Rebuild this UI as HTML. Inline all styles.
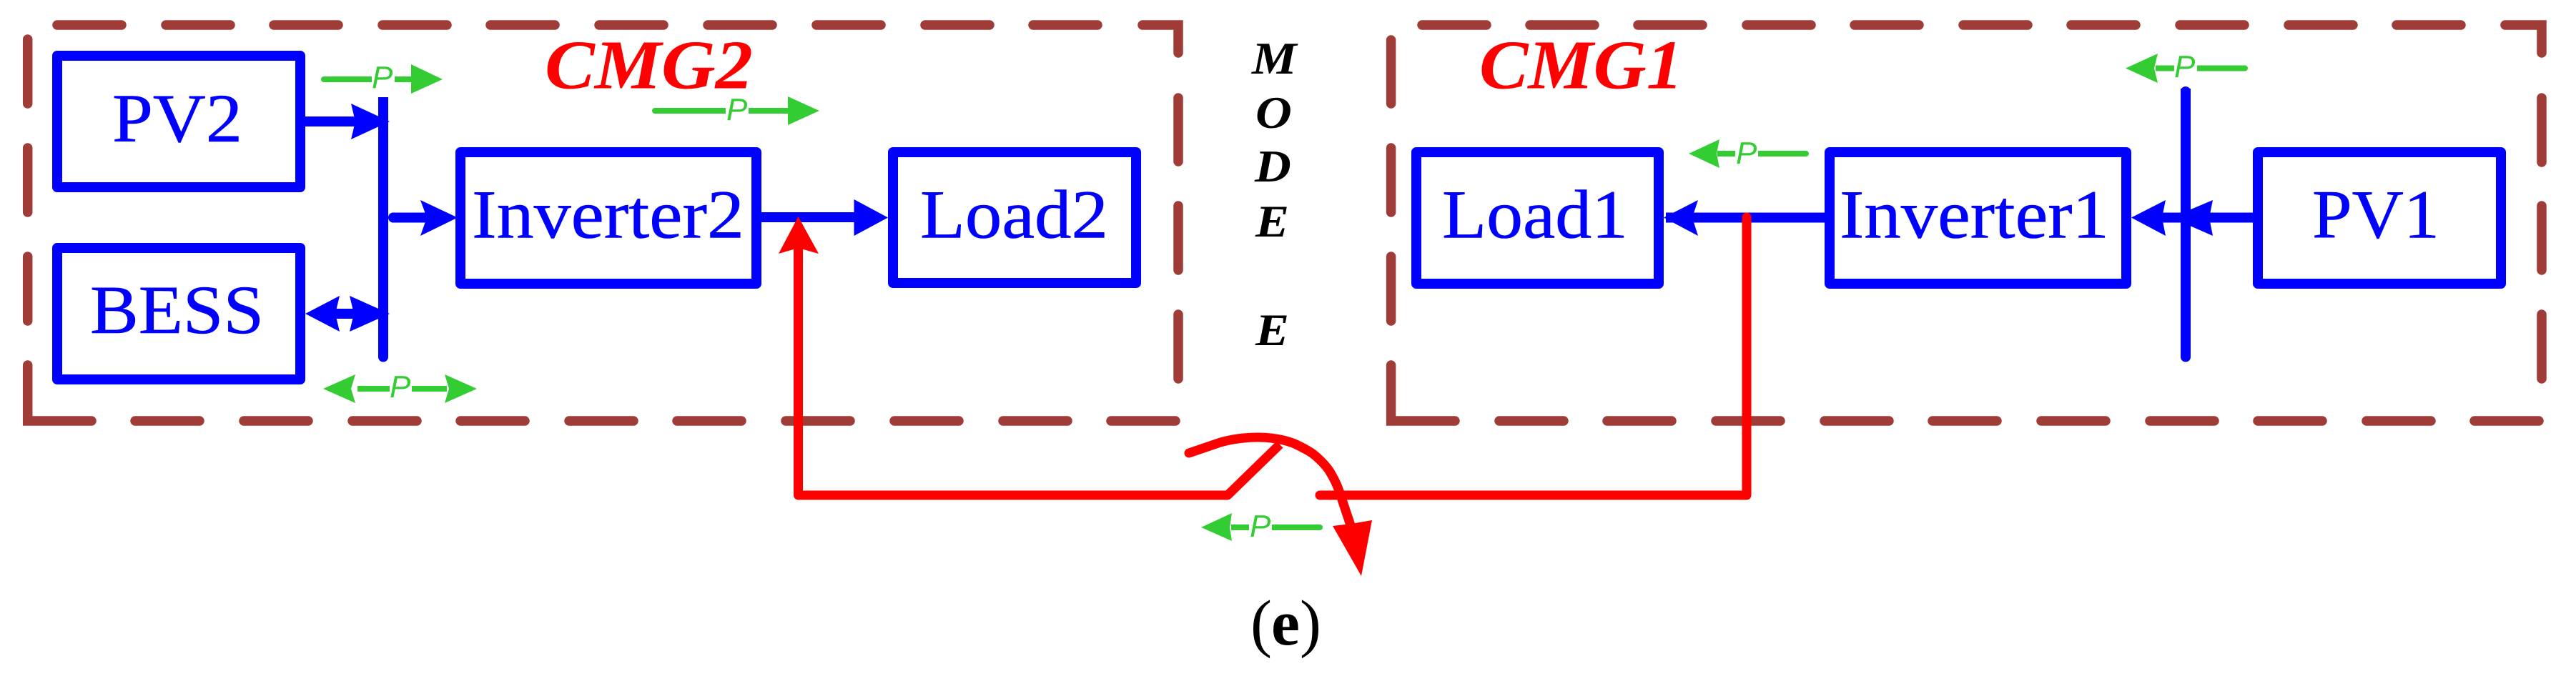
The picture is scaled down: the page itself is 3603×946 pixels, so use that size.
<!DOCTYPE html>
<html>
<head>
<meta charset="utf-8">
<style>
html,body{margin:0;padding:0;background:#fff;}
svg{display:block;}
text{font-family:"Liberation Serif",serif;}
.g{font-family:"Liberation Sans",sans-serif;font-style:italic;font-size:44px;fill:#33cc33;}
.b{font-size:96px;fill:#0000ff;stroke:#0000ff;stroke-width:.6px;}
.r{font-size:98px;fill:#ff0000;font-weight:bold;font-style:italic;}
.k{font-size:64px;fill:#000;font-weight:bold;font-style:italic;}
</style>
</head>
<body>
<svg width="3603" height="946" viewBox="0 0 3603 946" xmlns="http://www.w3.org/2000/svg">
<rect width="3603" height="946" fill="#fff"/>

<!-- dashed frames -->
<path fill="none" stroke="#a03c37" stroke-width="13.5" stroke-linecap="round" stroke-linejoin="miter" d="
M80 35h90M232 35h90M383 35h90M535 35h90M686 35h90M838 35h90M990 35h90M1142 35h90M1294 35h90M1445 35h90M1598 35H1648V74
M38.7 55V145M38.7 207V297M38.7 359V449M38.7 511V589H128
M189 589h90M341 589h90M493 589h90M644 589h90M796 589h90M947 589h90M1099 589h90M1251 589h90M1403 589h90M1554 589h90
M1648 137V226M1648 288V378M1648 440V530
M1989 35h90M2140 35h90M2291 35h90M2443 35h90M2594 35h90M2746 35h90M2897 35h90M3049 35h90M3201 35h90M3352 35h90M3504 35H3555V74
M1945.6 56V145M1945.6 207V297M1945.6 359V449M1945.6 511V589H2035
M2097 589h90M2248 589h90M2400 589h90M2552 589h90M2703 589h90M2855 589h90M3007 589h90M3158 589h90M3310 589h90M3461 589h90
M3555 137V227M3555 288V378M3555 440V530"/>

<!-- boxes -->
<g fill="none" stroke="#0000ff" stroke-width="14" stroke-linejoin="round">
<rect x="80" y="78" width="340" height="184"/>
<rect x="80" y="347" width="340" height="184"/>
<rect x="644" y="213" width="414" height="184"/>
<rect x="1249" y="213" width="340" height="183"/>
<rect x="1981" y="213" width="339" height="184"/>
<rect x="2559" y="213" width="415" height="184"/>
<rect x="3158" y="213" width="340" height="184"/>
</g>

<!-- blue bus and connector lines -->
<g stroke="#0000ff" fill="none">
<path stroke-width="14" d="M536 136V499M3057 124V499"/>
<path stroke-width="14" stroke-linecap="round" d="M536 499V499.5M3057 499V499.5M3057 128V128.5"/>
<path stroke-width="14" d="M426 170H500M548 304.5H600M440 439H530M1065 304H1200M2330 304.5H2552M3020 304.5H3151"/>
<path stroke-width="14" stroke-linecap="round" d="M550 304.5H560"/>
</g>
<g fill="#0000ff">
<polygon points="545,170 491,145 497,170 491,195"/>
<polygon points="640,304.5 588,280 597,304.5 588,330"/>
<polygon points="427,439 475,414 469,439 475,464"/>
<polygon points="545,439 489,414 495,439 489,464"/>
<polygon points="1242,304.5 1194.5,279 1194.5,330"/>
<polygon points="2327,304.5 2375,280 2367,304.5 2375,330"/>
<polygon points="2981,304.5 3029,280 3024,304.5 3029,330"/>
<polygon points="3037,304.5 3095,280 3090,304.5 3095,330"/>
</g>

<!-- red connector -->
<g fill="none" stroke="#ff0000" stroke-linejoin="round">
<path stroke-width="13" stroke-linecap="round" d="M2443 304V693H1846"/>
<path stroke-width="13" d="M1116.5 345V693H1717L1790 622"/>
<path stroke-width="13" stroke-linecap="round" d="M1663 634L1707 619C1725 614 1745 612 1760 612C1780 612 1800 616 1813 622C1825 628 1833 632 1840 638C1848 645 1855 652 1860 660C1866 670 1870 678 1873 687L1890 738"/>
</g>
<g fill="#ff0000">
<polygon points="1116.5,303 1089,355 1116.5,347 1145,355"/>
<polygon points="1864,736 1890,733 1919,728 1904,806"/>
</g>

<!-- green power arrows -->
<g fill="#33cc33">
<path stroke="#33cc33" stroke-width="8" stroke-linecap="butt" fill="none" d="M455 111H520M552 111H580M918 155H1015M1047 155H1105M500 544H545M576 544H625M1722 738H1747M1779 738H1844M3015 95.5H3041M3073 95.5H3138M2402 215H2427M2459 215H2524"/>
<path stroke="#33cc33" stroke-width="8" stroke-linecap="round" fill="none" d="M453 111H455M916 155H918M1844 738H1846M3138 95.5H3140M2524 215H2526"/>
<polygon points="619,111 575,90 575,131"/>
<polygon points="1146,155 1102,135 1102,175"/>
<polygon points="452,544 497,524 491,544 497,564"/>
<polygon points="667,544 622,524 628,544 622,564"/>
<polygon points="1680,738 1723,718 1720,738 1723,757"/>
<polygon points="2973,95.5 3018,75 3013,95.5 3018,116"/>
<polygon points="2362,215 2405,195 2401,215 2405,235"/>
</g>
<text class="g" x="520" y="123">P</text>
<text class="g" x="1016" y="168">P</text>
<text class="g" x="545" y="556">P</text>
<text class="g" x="1748" y="751">P</text>
<text class="g" x="3041" y="108">P</text>
<text class="g" x="2428" y="229">P</text>

<!-- box labels -->
<text class="b" x="157" y="198" textLength="182" lengthAdjust="spacingAndGlyphs">PV2</text>
<text class="b" x="126" y="466" textLength="243" lengthAdjust="spacingAndGlyphs">BESS</text>
<text class="b" x="660" y="332.5" textLength="381" lengthAdjust="spacingAndGlyphs">Inverter2</text>
<text class="b" x="1287" y="332.5" textLength="263" lengthAdjust="spacingAndGlyphs">Load2</text>
<text class="b" x="2017" y="332.5" textLength="260" lengthAdjust="spacingAndGlyphs">Load1</text>
<text class="b" x="2573" y="332.5" textLength="377" lengthAdjust="spacingAndGlyphs">Inverter1</text>
<text class="b" x="3234" y="332.5" textLength="178" lengthAdjust="spacingAndGlyphs">PV1</text>

<text class="r" x="762" y="123.5" textLength="291" lengthAdjust="spacingAndGlyphs">CMG2</text>
<text class="r" x="2069" y="123.5" textLength="285" lengthAdjust="spacingAndGlyphs">CMG1</text>

<text class="k" x="1751" y="103" textLength="62.6" lengthAdjust="spacingAndGlyphs">M</text>
<text class="k" x="1756" y="179" textLength="50.8" lengthAdjust="spacingAndGlyphs">O</text>
<text class="k" x="1755" y="254" textLength="50.8" lengthAdjust="spacingAndGlyphs">D</text>
<text class="k" x="1756" y="331" textLength="47" lengthAdjust="spacingAndGlyphs">E</text>
<text class="k" x="1756" y="483" textLength="47" lengthAdjust="spacingAndGlyphs">E</text>

<text x="1749" y="902" font-size="90" fill="#000">(</text>
<text x="1778" y="902" font-size="90" font-weight="bold" fill="#000">e</text>
<text x="1818" y="902" font-size="90" fill="#000">)</text>
</svg>
</body>
</html>
